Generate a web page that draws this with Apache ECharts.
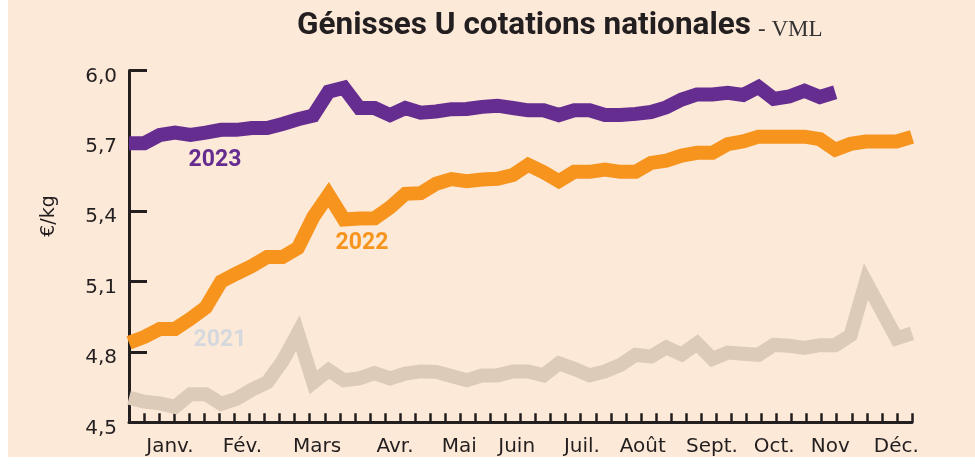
<!DOCTYPE html>
<html>
<head>
<meta charset="utf-8">
<script src="https://cdn.jsdelivr.net/npm/echarts@6/dist/echarts.min.js"></script>
<style>
  html, body { margin: 0; padding: 0; background: #ffffff; }
  #chart { width: 975px; height: 466px; }
</style>
</head>
<body>
<div id="chart"></div>
<script>
// cotations hebdomadaires (52 semaines), en €/kg
var years = ['2021', '2022', '2023'];

var values2021 = [
  4.605, 4.588, 4.581, 4.566, 4.62, 4.62, 4.579, 4.60, 4.639, 4.67,
  4.76, 4.88, 4.67, 4.722, 4.679, 4.687, 4.71, 4.687, 4.708, 4.717,
  4.715, 4.697, 4.679, 4.70, 4.70, 4.717, 4.717, 4.70, 4.751, 4.728,
  4.70, 4.717, 4.744, 4.788, 4.78, 4.819, 4.789, 4.836, 4.77, 4.797,
  4.792, 4.788, 4.83, 4.826, 4.817, 4.829, 4.829, 4.871, 5.10, 4.979,
  4.858, 4.879
];

var values2022 = [
  4.839, 4.864, 4.898, 4.898, 4.941, 4.99, 5.10, 5.134, 5.166, 5.205,
  5.205, 5.243, 5.375, 5.47, 5.365, 5.369, 5.37, 5.416, 5.474, 5.477,
  5.517, 5.537, 5.528, 5.535, 5.538, 5.554, 5.598, 5.566, 5.528, 5.568,
  5.568, 5.578, 5.568, 5.568, 5.606, 5.616, 5.637, 5.649, 5.649, 5.686,
  5.698, 5.718, 5.718, 5.718, 5.718, 5.707, 5.662, 5.687, 5.697, 5.697,
  5.697, 5.717
];

var values2023 = [
  5.69, 5.69, 5.725, 5.735, 5.725, 5.735, 5.747, 5.747, 5.755, 5.755,
  5.772, 5.792, 5.808, 5.91, 5.927, 5.84, 5.84, 5.81, 5.84, 5.82,
  5.825, 5.835, 5.836, 5.845, 5.85, 5.84, 5.83, 5.83, 5.81, 5.83,
  5.83, 5.81, 5.81, 5.815, 5.823, 5.843, 5.876, 5.898, 5.898, 5.905,
  5.896, 5.93, 5.879, 5.889, 5.914, 5.887, 5.907
];

// mois, placés en semaines
var monthLabels = ['Janv.', 'Fév.', 'Mars', 'Avr.', 'Mai', 'Juin', 'Juil.', 'Août', 'Sept.', 'Oct.', 'Nov', 'Déc.'];
var monthPos = [2.67, 7.39, 12.25, 17.33, 21.51, 25.25, 29.5, 33.46, 37.97, 42.02, 45.68, 49.98];

var lastWeek = 51;
var tickCount = 53;

var colors = { '2021': '#dccbb9', '2022': '#f7941e', '2023': '#662d91' };
var ink = '#231f20';

var weekTicks = [];
for (var i = 0; i < tickCount; i++) {
  weekTicks.push(i * lastWeek / (tickCount - 1));
}

function toPoints(arr) {
  return arr.map(function (v, k) { return [k, v]; });
}

function lineSeries(name, arr) {
  return {
    name: name,
    type: 'line',
    data: toPoints(arr),
    showSymbol: false,
    symbol: 'none',
    clip: false,
    lineStyle: { width: 14, color: colors[name], join: 'miter', miterLimit: 10, cap: 'butt' },
    emphasis: { disabled: true },
    animation: false
  };
}

var myChart = echarts.init(document.getElementById('chart'));

var option = {
  backgroundColor: '#ffffff',
  animation: false,
  grid: { left: 129, right: 63, top: 70.5, bottom: 43.7 },
  xAxis: {
    type: 'value',
    min: 0,
    max: lastWeek,
    splitLine: { show: false },
    axisLine: { show: true, lineStyle: { color: ink, width: 3 } },
    axisTick: {
      show: true,
      inside: true,
      length: 9,
      customValues: weekTicks,
      lineStyle: { color: ink, width: 2.5 }
    },
    axisLabel: {
      customValues: monthPos,
      margin: 14,
      color: ink,
      fontFamily: 'DejaVu Sans',
      fontSize: 20,
      formatter: function (v) {
        var best = 0;
        for (var j = 1; j < monthPos.length; j++) {
          if (Math.abs(monthPos[j] - v) < Math.abs(monthPos[best] - v)) best = j;
        }
        return monthLabels[best];
      }
    }
  },
  yAxis: {
    type: 'value',
    min: 4.5,
    max: 6.0,
    interval: 0.3,
    splitLine: { show: false },
    axisLine: { show: true, lineStyle: { color: ink, width: 3 } },
    axisTick: { show: true, inside: true, length: 18, lineStyle: { color: ink, width: 3 } },
    axisLabel: {
      margin: 12,
      verticalAlign: 'top',
      lineHeight: 12,
      color: ink,
      fontFamily: 'DejaVu Sans',
      fontSize: 20,
      formatter: function (v) { return v.toFixed(1).replace('.', ','); }
    }
  },
  graphic: [
    { type: 'rect', z: -10, silent: true, shape: { x: 8, y: 0, width: 967, height: 457 }, style: { fill: '#fde9d8' } },
    {
      type: 'text', x: 297, y: 26, z: 10,
      style: {
        text: 'Génisses U cotations nationales',
        fill: ink,
        font: 'bold 31.5px Roboto, sans-serif',
        textAlign: 'left', textVerticalAlign: 'middle'
      }
    },
    {
      type: 'text', x: 758, y: 30, z: 10,
      style: {
        text: '- VML',
        fill: '#333333',
        font: '23px "Liberation Serif", serif',
        textAlign: 'left', textVerticalAlign: 'middle'
      }
    },
    {
      type: 'text', x: 49, y: 216, rotation: Math.PI / 2, z: 10,
      style: {
        text: '€/kg', fill: ink, font: '19px "DejaVu Sans", sans-serif',
        textAlign: 'center', textVerticalAlign: 'middle'
      }
    },
    {
      type: 'text', x: 215, y: 160, z: 10,
      style: { text: '2023', fill: colors['2023'], font: 'bold 23px Roboto, sans-serif', textAlign: 'center', textVerticalAlign: 'middle' }
    },
    {
      type: 'text', x: 362, y: 243, z: 10,
      style: { text: '2022', fill: colors['2022'], font: 'bold 23px Roboto, sans-serif', textAlign: 'center', textVerticalAlign: 'middle' }
    },
    {
      type: 'text', x: 220, y: 340, z: 10,
      style: { text: '2021', fill: '#d5d9dd', font: 'bold 23px Roboto, sans-serif', textAlign: 'center', textVerticalAlign: 'middle' }
    }
  ],
  series: [
    lineSeries('2021', values2021),
    lineSeries('2022', values2022),
    lineSeries('2023', values2023)
  ]
};

option && myChart.setOption(option);

window.addEventListener('resize', function () {
  myChart.resize();
});
</script>
</body>
</html>
